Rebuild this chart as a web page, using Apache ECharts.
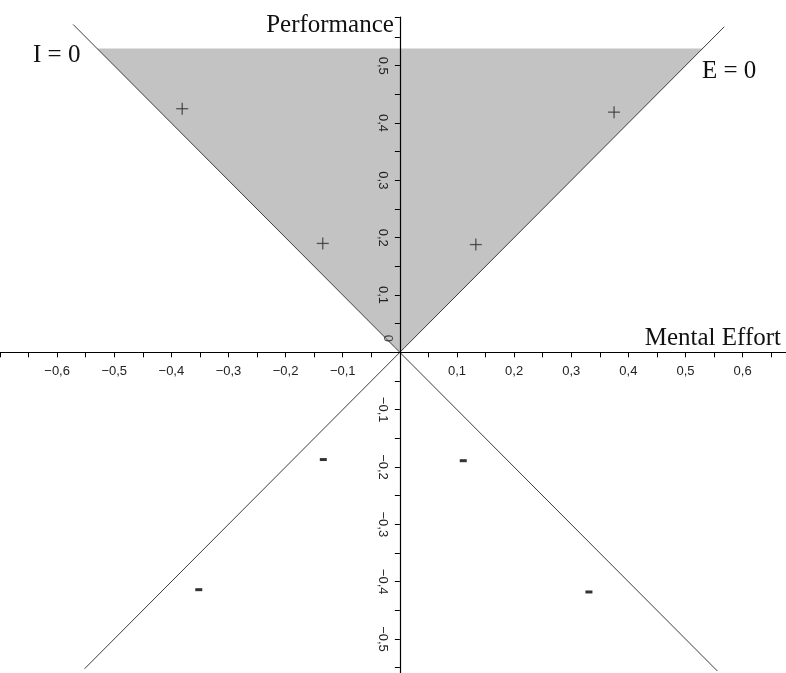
<!DOCTYPE html>
<html>
<head>
<meta charset="utf-8">
<script src="https://cdn.jsdelivr.net/npm/echarts@6/dist/echarts.min.js"></script>
<style>html,body{margin:0;padding:0;background:#fff;}#c{width:786px;height:673px;}</style>
</head>
<body>
<div id="c"></div>
<script>
// ---- data ----
const plusX = [-0.381, -0.135, 0.133, 0.375];
const plusY = [0.425, 0.190, 0.188, 0.419];
const minusX = [-0.134, 0.111, -0.352, 0.331];
const minusY = [-0.187, -0.189, -0.414, -0.418];
const triX = [0, -0.53, 0.53];
const triY = [0, 0.53, 0.53];
const lineIX = [-0.572, 0.556];
const lineIY = [0.572, -0.556];
const lineEX = [-0.552, 0.568];
const lineEY = [-0.552, 0.568];
const xLabelTicks = [-0.6, -0.5, -0.4, -0.3, -0.2, -0.1, 0.1, 0.2, 0.3, 0.4, 0.5, 0.6];
const yLabelTicks = [-0.5, -0.4, -0.3, -0.2, -0.1, 0.1, 0.2, 0.3, 0.4, 0.5];
const xName = 'Mental Effort';
const yName = 'Performance';
const lineNames = ['I = 0', 'E = 0'];

function fmt(list) {
  return function (v) {
    for (const t of list) {
      if (Math.abs(t - v) < 1e-6) {
        const r = Math.round(Math.abs(t) * 10);
        return (t < 0 ? '\u2212' : '') + '0,' + r;
      }
    }
    return '';
  };
}

const W = 786, H = 673;
const X_MIN = -0.7, X_MAX = 0.676, Y_MIN = -0.6, Y_MAX = 0.585;
const G_TOP = 17, G_BOTTOM = -23.3, G_LEFT = 0, G_RIGHT = 0;
const gw = W - G_LEFT - G_RIGHT, gh = H - G_TOP - G_BOTTOM;
// distances from grid edges to the zero lines, so the axes cross at the origin
const xZeroFromLeft = (0 - X_MIN) / (X_MAX - X_MIN) * gw;
const yZeroFromBottom = (0 - Y_MIN) / (Y_MAX - Y_MIN) * gh;

const chart = echarts.init(document.getElementById('c'));
const labelFont = { fontFamily: 'Liberation Sans', fontSize: 13, color: '#222' };
const serif = 'Liberation Serif';

chart.setOption({
  animation: false,
  backgroundColor: '#fff',
  grid: { left: G_LEFT, right: G_RIGHT, top: G_TOP, bottom: G_BOTTOM, containLabel: false, outerBoundsMode: 'none' },
  xAxis: {
    type: 'value', min: X_MIN, max: X_MAX, interval: 0.05, z: 5,
    position: 'bottom', offset: -yZeroFromBottom,
    splitLine: { show: false },
    axisLine: { onZero: false, lineStyle: { color: '#000', width: 1.2 } },
    axisTick: { length: 5, lineStyle: { color: '#000' } },
    axisLabel: Object.assign({ formatter: fmt(xLabelTicks), margin: 13 }, labelFont),
    name: xName, nameLocation: 'end', nameGap: -5,
    nameTextStyle: { fontFamily: serif, fontSize: 25, color: '#111', align: 'right', verticalAlign: 'bottom', padding: [0, 0, 1, 0] }
  },
  yAxis: {
    type: 'value', min: Y_MIN, max: Y_MAX, interval: 0.05, z: 5,
    position: 'left', offset: -xZeroFromLeft,
    splitLine: { show: false },
    axisLine: { onZero: false, lineStyle: { color: '#000', width: 1.2 } },
    axisTick: { length: 5, lineStyle: { color: '#000' } },
    axisLabel: Object.assign({ formatter: fmt(yLabelTicks), margin: 11, rotate: -90 }, labelFont),
    name: yName, nameLocation: 'end', nameGap: -8,
    nameTextStyle: { fontFamily: serif, fontSize: 25, color: '#111', align: 'right', verticalAlign: 'middle', padding: [0, 6, 0, 0] }
  },
  series: [
    {
      type: 'custom', z: 1, silent: true,
      data: [[triX[0], triY[0]]],
      renderItem: function (params, api) {
        const pts = triX.map((x, i) => api.coord([x, triY[i]]));
        return { type: 'polygon', shape: { points: pts }, style: { fill: '#c3c3c3' } };
      }
    },
    {
      type: 'line', z: 3, symbol: 'none', silent: true,
      data: lineIX.map((x, i) => [x, lineIY[i]]),
      lineStyle: { color: '#3c3c3c', width: 1 }
    },
    {
      type: 'line', z: 3, symbol: 'none', silent: true,
      data: lineEX.map((x, i) => [x, lineEY[i]]),
      lineStyle: { color: '#3c3c3c', width: 1 }
    },
    {
      type: 'scatter', z: 6, symbol: 'rect', symbolSize: [12, 1.3],
      itemStyle: { color: '#333' },
      data: plusX.map((x, i) => [x, plusY[i]])
    },
    {
      type: 'scatter', z: 6, symbol: 'rect', symbolSize: [1.3, 12],
      itemStyle: { color: '#333' },
      data: plusX.map((x, i) => [x, plusY[i]])
    },
    {
      type: 'scatter', z: 6, symbol: 'rect', symbolSize: [7, 3],
      itemStyle: { color: '#000' },
      data: minusX.map((x, i) => [x, minusY[i]])
    },
    {
      type: 'scatter', z: 6, symbolSize: 0, silent: true,
      data: [[0, 0]],
      label: { show: true, formatter: '0', rotate: -90, position: 'inside', offset: [-14, 12],
        fontFamily: 'Liberation Sans', fontSize: 13, color: '#222' }
    }
  ],
  graphic: [
    { type: 'text', left: 33, top: 43, style: { text: lineNames[0], font: '25px "Liberation Serif"', fill: '#111' } },
    { type: 'text', left: 702, top: 59, style: { text: lineNames[1], font: '25px "Liberation Serif"', fill: '#111' } }
  ]
});
</script>
</body>
</html>
